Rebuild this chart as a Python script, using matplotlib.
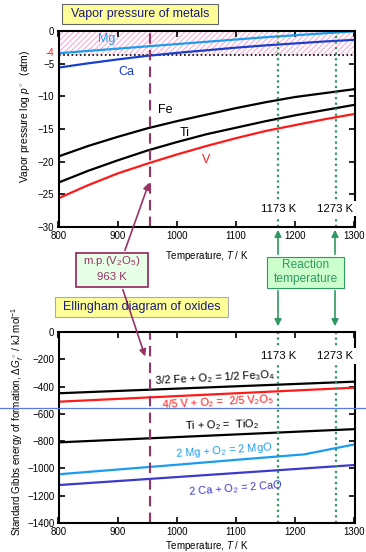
import matplotlib
matplotlib.use("Agg")
import matplotlib.pyplot as plt
from matplotlib.lines import Line2D
from matplotlib.patches import Rectangle, FancyArrowPatch

plt.rcParams['font.family'] = ['Liberation Sans', 'DejaVu Sans']
plt.rcParams['mathtext.fontset'] = 'custom'
plt.rcParams['mathtext.rm'] = 'Liberation Sans'
plt.rcParams['mathtext.it'] = 'Liberation Sans:italic'
plt.rcParams['hatch.linewidth'] = 0.8

# ---- data ----
T = [800, 850, 900, 950, 1000, 1050, 1100, 1150, 1200, 1250, 1300]
vp_Mg = [-3.4, -3.05, -2.7, -2.35, -2.0, -1.65, -1.3, -0.95, -0.65, -0.35, -0.05]
vp_Ca = [-5.6, -4.95, -4.35, -3.8, -3.35, -2.95, -2.55, -2.2, -1.9, -1.6, -1.35]
vp_Fe = [-19.2, -17.6, -16.2, -14.9, -13.8, -12.8, -11.8, -10.9, -10.1, -9.5, -8.9]
vp_Ti = [-23.2, -21.4, -19.8, -18.3, -17.0, -15.8, -14.8, -13.8, -12.9, -12.1, -11.3]
vp_V = [-25.6, -23.6, -21.8, -20.3, -18.9, -17.6, -16.4, -15.3, -14.4, -13.5, -12.7]
vp_limit = -3.6

T_lin = [800, 1300]
G_Fe3O4 = [-449, -364]
G_V2O5 = [-511, -408]
G_TiO2 = [-809, -712]
T_MgO = [800, 1000, 1100, 1215, 1300]
G_MgO = [-1043, -973, -937, -897, -824]
G_CaO = [-1122, -975]

T_mp = 955
T_reac = [1171, 1268]
reac_labels = ['1173 K', '1273 K']

xticks = [800, 900, 1000, 1100, 1200, 1300]
yticks_top = [0, -5, -10, -15, -20, -25, -30]
yticks_bot = [0, -200, -400, -600, -800, -1000, -1200, -1400]

# colors
c_mg = '#1a9cf0'
c_ca = '#1a3fcc'
c_cao = '#3a3acc'
c_red = '#ff1a1a'
c_purple = '#993366'
c_green = '#2e9960'
navy = '#1a1a80'

fig = plt.figure(figsize=(3.66, 5.52), dpi=100)
ax1 = fig.add_axes([58.5/366, 1-227/552, 296/366, 196/552])
ax2 = fig.add_axes([58.5/366, 1-523/552, 296/366, 191/552])

for ax in (ax1, ax2):
    ax.set_xlim(800, 1300)
    ax.set_xticks(xticks)
    ax.tick_params(direction='in', top=True, right=True, length=4, width=1.2,
                   labelsize=7, pad=3)
    for s in ax.spines.values():
        s.set_linewidth(1.5)

ax1.set_xlabel('Temperature, $\\mathit{T}$ / K', fontsize=7, labelpad=6)
ax2.set_xlabel('Temperature, $\\mathit{T}$ / K', fontsize=7, labelpad=1.5)

# ---- top axes ----
ax1.set_ylim(-30, 0)
ax1.set_yticks(yticks_top)
ax1.fill_between([800, 1300], vp_limit, 0, facecolor='none', edgecolor='#ffaad5',
                 hatch='//////', linewidth=0)
ax1.axhline(vp_limit, color='black', linestyle=(0, (1, 1.5)), linewidth=1.2)
ax1.text(792, -3.3, '-4', color=c_red, fontsize=7, ha='right', va='center')
ax1.plot(T, vp_Mg, color=c_mg, lw=1.6)
ax1.plot(T, vp_Ca, color=c_ca, lw=1.6)
ax1.plot(T, vp_Fe, color='black', lw=1.6)
ax1.plot(T, vp_Ti, color='black', lw=1.6)
ax1.plot(T, vp_V, color=c_red, lw=1.6)
ax1.text(882, -1.3, 'Mg', color=c_mg, fontsize=9, ha='center', va='center')
ax1.text(914, -6.3, 'Ca', color=c_ca, fontsize=9, ha='center', va='center')
ax1.text(980, -12.1, 'Fe', color='black', fontsize=9, ha='center', va='center')
ax1.text(1013, -15.6, 'Ti', color='black', fontsize=9, ha='center', va='center')
ax1.text(1050, -19.7, 'V', color=c_red, fontsize=9, ha='center', va='center')
ax1.axvline(T_mp, color=c_purple, lw=1.5, linestyle=(0, (5, 3)))
for tr, lab in zip(T_reac, reac_labels):
    ax1.axvline(tr, color=c_green, lw=1.6, linestyle=(0, (1, 1.5)))
    ax1.text(tr, -27.2, lab, fontsize=8.2, ha='center', va='center',
             bbox=dict(facecolor='white', edgecolor='none', pad=2))
ax1.set_ylabel('Vapor pressure log $\\mathit{p}^\\circ$  (atm)', fontsize=7.4, labelpad=6)
ax1.yaxis.set_label_coords(-0.088, 0.566)

# ---- bottom axes ----
ax2.set_ylim(-1400, 0)
ax2.set_yticks(yticks_bot)
ax2.plot(T_lin, G_Fe3O4, color='black', lw=1.6)
ax2.plot(T_lin, G_V2O5, color=c_red, lw=1.6)
ax2.plot(T_lin, G_TiO2, color='black', lw=1.6)
ax2.plot(T_MgO, G_MgO, color=c_mg, lw=1.6)
ax2.plot(T_lin, G_CaO, color=c_cao, lw=1.6)
ax2.axvline(T_mp, color=c_purple, lw=1.5, linestyle=(0, (5, 3)))
for tr, lab in zip(T_reac, reac_labels):
    ax2.axvline(tr, color=c_green, lw=1.6, linestyle=(0, (1, 1.5)))
    ax2.text(tr, -175, lab, fontsize=8.2, ha='center', va='center',
             bbox=dict(facecolor='white', edgecolor='none', pad=2))
eq_fs = 7.9
ax2.text(1063, -337, '3/2 Fe + O$_2$ = 1/2 Fe$_3$O$_4$', fontsize=eq_fs, color='black',
         ha='center', va='center', rotation=3)
ax2.text(1069, -513, '4/5 V + O$_2$ =  2/5 V$_2$O$_5$', fontsize=eq_fs, color=c_red,
         ha='center', va='center', rotation=3)
ax2.text(1076, -682, 'Ti + O$_2$ =  TiO$_2$', fontsize=eq_fs, color='black',
         ha='center', va='center', rotation=1.5)
ax2.text(1079, -870, '2 Mg + O$_2$ = 2 MgO', fontsize=eq_fs, color=c_mg,
         ha='center', va='center', rotation=4)
ax2.text(1100, -1146, '2 Ca + O$_2$ = 2 CaO', fontsize=eq_fs, color=c_cao,
         ha='center', va='center', rotation=4.3)
ax2.set_ylabel('Standard Gibbs energy of formation, $\\Delta\\mathit{G}^\\circ_f$ / kJ mol$^{-1}$',
               fontsize=7.1, labelpad=2)
ax2.yaxis.set_label_coords(-0.11, 0.534)

# ---- boxes & annotations (figure pixel helpers) ----
W, H = 366.0, 552.0
def fx(px):
    return px / W
def fy(py):
    return 1 - py / H

def box(x0, y0, x1, y1, fc, ec, lw):
    fig.add_artist(Rectangle((fx(x0), fy(y1)), fx(x1) - fx(x0), fy(y0) - fy(y1),
                             transform=fig.transFigure, facecolor=fc, edgecolor=ec, lw=lw))

box(62, 4, 218, 24, '#ffff99', '#666666', 0.8)
fig.text(fx(140), fy(14), 'Vapor pressure of metals', fontsize=8.9, color=navy,
         ha='center', va='center')
box(55, 297, 228, 317, '#ffff99', '#aaaaaa', 0.8)
fig.text(fx(141.5), fy(307), 'Ellingham diagram of oxides', fontsize=9, color=navy,
         ha='center', va='center')
box(76, 253, 148, 287, '#e6ffe6', c_purple, 1.3)
fig.text(fx(112), fy(261), 'm.p.(V$_2$O$_5$)', fontsize=8.2, color=c_purple,
         ha='center', va='center')
fig.text(fx(112), fy(277), '963 K', fontsize=8.2, color=c_purple,
         ha='center', va='center')
box(267, 257, 344, 288, '#ccffcc', c_green, 0.8)
fig.text(fx(305.5), fy(265.5), 'Reaction', fontsize=8.6, color=c_green,
         ha='center', va='center')
fig.text(fx(305.5), fy(279), 'temperature', fontsize=8.6, color=c_green,
         ha='center', va='center')

# purple arrows from m.p. box
fig.add_artist(FancyArrowPatch(
    (fx(124), fy(253)), (fx(150), fy(180)), transform=fig.transFigure,
    arrowstyle='-|>,head_length=4,head_width=2', color=c_purple, lw=1.2))
fig.add_artist(FancyArrowPatch(
    (fx(122), fy(287)), (fx(146), fy(359)), transform=fig.transFigure,
    arrowstyle='-|>,head_length=4,head_width=2', color=c_purple, lw=1.2))
# green arrows from reaction temperature box
for xp in (278, 335):
    fig.add_artist(FancyArrowPatch(
        (fx(xp), fy(257)), (fx(xp), fy(227)), transform=fig.transFigure,
        arrowstyle='-|>,head_length=4,head_width=2', color=c_green, lw=1.2))
    fig.add_artist(FancyArrowPatch(
        (fx(xp), fy(288)), (fx(xp), fy(329)), transform=fig.transFigure,
        arrowstyle='-|>,head_length=4,head_width=2', color=c_green, lw=1.2))

# thin blue horizontal line across the figure
fig.add_artist(Line2D([0, 1], [fy(408), fy(408)], transform=fig.transFigure,
                      color='#5a7be0', lw=0.9))

fig.savefig('out.png', dpi=100)
